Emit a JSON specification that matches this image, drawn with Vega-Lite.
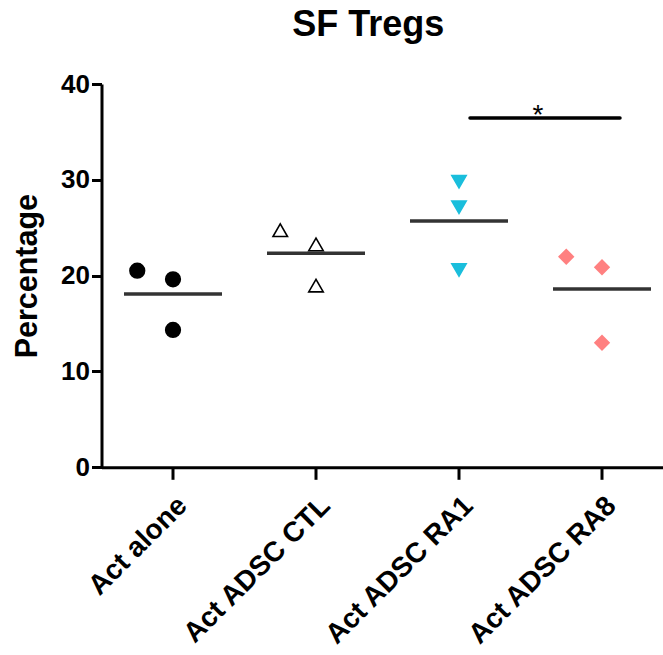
{
  "$schema": "https://vega.github.io/schema/vega-lite/v6.json",
  "width": 561.5,
  "height": 383.3,
  "autosize": {"type": "none"},
  "padding": {"left": 101.5, "top": 84, "right": 0, "bottom": 187.7},
  "background": "white",
  "config": {
    "view": {"stroke": null},
    "font": "Liberation Sans",
    "axis": {"grid": false, "domainColor": "black", "tickColor": "black", "labelColor": "black", "titleColor": "black", "domainWidth": 3, "tickWidth": 3, "labelFont": "Liberation Sans", "titleFont": "Liberation Sans", "labelFontWeight": "bold", "titleFontWeight": "bold"}
  },
  "title": {"text": "SF Tregs", "fontSize": 36, "fontWeight": "bold", "font": "Liberation Sans", "color": "black", "anchor": "middle", "dx": -14, "offset": 27},
  "datasets": {
    "points": [
      {"group": "Act alone", "slot": "L", "value": 20.52},
      {"group": "Act alone", "slot": "C", "value": 19.62},
      {"group": "Act alone", "slot": "C", "value": 14.33},
      {"group": "Act ADSC CTL", "slot": "L", "value": 24.74},
      {"group": "Act ADSC CTL", "slot": "C", "value": 23.26},
      {"group": "Act ADSC CTL", "slot": "C", "value": 18.96},
      {"group": "Act ADSC RA1", "slot": "C", "value": 29.81},
      {"group": "Act ADSC RA1", "slot": "C", "value": 27.14},
      {"group": "Act ADSC RA1", "slot": "C", "value": 20.6},
      {"group": "Act ADSC RA8", "slot": "L", "value": 21.98},
      {"group": "Act ADSC RA8", "slot": "C", "value": 20.88},
      {"group": "Act ADSC RA8", "slot": "C", "value": 13.0}
    ],
    "means": [
      {"group": "Act alone", "mean": 18.09},
      {"group": "Act ADSC CTL", "mean": 22.34},
      {"group": "Act ADSC RA1", "mean": 25.71},
      {"group": "Act ADSC RA8", "mean": 18.61}
    ],
    "sig": [
      {"from": "Act ADSC RA1", "to": "Act ADSC RA8", "y": 36.46, "label": "*"}
    ]
  },
  "encoding": {
    "x": {
      "field": "group", "type": "nominal",
      "scale": {"domain": ["Act alone", "Act ADSC CTL", "Act ADSC RA1", "Act ADSC RA8"], "range": [0, 572], "paddingInner": 0, "paddingOuter": 0},
      "axis": {"title": null, "labelAngle": -45, "labelFontSize": 28, "tickSize": 12, "labelPadding": 12, "labelLimit": 500}
    }
  },
  "layer": [
    {
      "data": {"name": "means"},
      "mark": {"type": "tick", "orient": "horizontal", "size": 98, "thickness": 3.5, "color": "#333333", "opacity": 1},
      "encoding": {
        "y": {"field": "mean", "type": "quantitative", "scale": {"domain": [0, 40], "nice": false},
          "axis": {"title": "Percentage", "titleFontSize": 30.5, "labelFontSize": 26, "values": [0, 10, 20, 30, 40], "tickSize": 10, "labelPadding": 2, "titlePadding": 18}}
      }
    },
    {
      "data": {"name": "points"},
      "mark": {"type": "point", "filled": true, "strokeWidth": 1.6, "opacity": 1},
      "encoding": {
        "xOffset": {"field": "slot", "type": "nominal", "scale": {"domain": ["L", "C", "R"], "paddingInner": 0, "paddingOuter": 1.609}},
        "y": {"field": "value", "type": "quantitative"},
        "shape": {"field": "group", "type": "nominal", "legend": null, "scale": {"domain": ["Act alone", "Act ADSC CTL", "Act ADSC RA1", "Act ADSC RA8"], "range": ["circle", "triangle-up", "triangle-down", "diamond"]}},
        "fill": {"field": "group", "type": "nominal", "legend": null, "scale": {"domain": ["Act alone", "Act ADSC CTL", "Act ADSC RA1", "Act ADSC RA8"], "range": ["black", "white", "#1ABEDC", "#FF8080"]}},
        "stroke": {"field": "group", "type": "nominal", "legend": null, "scale": {"domain": ["Act alone", "Act ADSC CTL", "Act ADSC RA1", "Act ADSC RA8"], "range": ["black", "black", "#1ABEDC", "#FF8080"]}},
        "size": {"field": "group", "type": "ordinal", "legend": null, "scale": {"domain": ["Act alone", "Act ADSC CTL", "Act ADSC RA1", "Act ADSC RA8"], "range": [215, 200, 270, 400]}}
      }
    },
    {
      "data": {"name": "sig"},
      "mark": {"type": "rule", "strokeWidth": 3.5, "color": "black", "strokeCap": "round", "xOffset": 11, "x2Offset": 18},
      "encoding": {
        "x": {"field": "from", "type": "nominal"},
        "x2": {"field": "to"},
        "y": {"field": "y", "type": "quantitative"}
      }
    },
    {
      "data": {"name": "sig"},
      "mark": {"type": "text", "fontSize": 28, "color": "black", "dx": 79, "dy": 6, "baseline": "alphabetic", "font": "Liberation Sans"},
      "encoding": {
        "x": {"field": "from", "type": "nominal"},
        "y": {"field": "y", "type": "quantitative"},
        "text": {"field": "label"}
      }
    }
  ]
}
